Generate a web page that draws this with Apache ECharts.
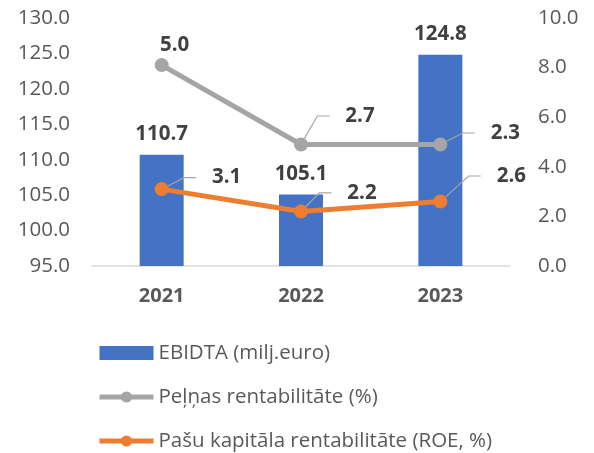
<!DOCTYPE html>
<html>
<head>
<meta charset="utf-8">
<script src="https://cdn.jsdelivr.net/npm/echarts@6/dist/echarts.min.js"></script>
<style>
html,body{margin:0;padding:0;background:#fff;}
#chart{width:594px;height:453px;}
</style>
</head>
<body>
<div id="chart"></div>
<script>
var years = ['2021', '2022', '2023'];
var ebitda = [110.7, 105.1, 124.8];
var profitMargin = [5.0, 2.7, 2.3];   // stacked on top of ROE
var roe = [3.1, 2.2, 2.6];
var leftTicks = [95, 130, 5];
var rightTicks = [0, 10, 2];

// label shifts [dx, dy] for the line labels
var roeShift = [[57, 11], [53, 4], [63, -3]];
var pmShift = [[13, 3], [51, -6], [57, 11]];

var font = '"Open Sans", "Noto Sans", sans-serif';
var fmt = function(p){ return p.value.toFixed(1); };
var lblStyle = {show: true, position: 'top', fontFamily: font, fontSize: 20.5, fontWeight: 'bold', color: '#404040', formatter: fmt};
// leading spaces keep a small gap between leader line and number
var leadLabel = Object.assign({}, lblStyle, {formatter: function(p){ return '\u00a0\u00a0\u00a0' + p.value.toFixed(1); }});
var leadLine = {show: true, length2: 12, lineStyle: {color: '#A5A5A5', width: 1.2}};

window.onload = function(){
	var myChart = echarts.init(document.getElementById('chart'));
	var option = {
		animation: false,
		textStyle: {fontFamily: font},
		grid: {left: 92, right: 84, top: 18, bottom: 187},
		legend: {
			orient: 'vertical',
			left: 97,
			top: 341,
			padding: 0,
			itemGap: 20,
			itemWidth: 54,
			itemHeight: 14,
			lineStyle: {width: 5},
			textStyle: {color: '#595959', fontSize: 20.5, lineHeight: 24, fontFamily: font},
			data: [
				{name: 'EBIDTA (milj.euro)', icon: 'rect'},
				'Peļņas rentabilitāte (%)',
				'Pašu kapitāla rentabilitāte (ROE, %)'
			]
		},
		xAxis: {
			type: 'category',
			data: years,
			axisLine: {lineStyle: {color: '#D9D9D9', width: 1.5}},
			axisTick: {show: false},
			axisLabel: {color: '#595959', fontSize: 20, fontWeight: 'bold', margin: 20}
		},
		yAxis: [
			{
				type: 'value', min: leftTicks[0], max: leftTicks[1], interval: leftTicks[2],
				splitLine: {show: false},
				axisLabel: {color: '#595959', fontSize: 20.5, margin: 22, formatter: function(v){ return v.toFixed(1); }}
			},
			{
				type: 'value', min: rightTicks[0], max: rightTicks[1], interval: rightTicks[2],
				splitLine: {show: false},
				axisLabel: {color: '#595959', fontSize: 20.5, margin: 28, formatter: function(v){ return v.toFixed(1); }}
			}
		],
		series: [
			{
				name: 'EBIDTA (milj.euro)',
				type: 'bar',
				data: ebitda,
				barWidth: 44,
				itemStyle: {color: '#4472C4'},
				label: Object.assign({}, lblStyle, {distance: 10})
			},
			{
				name: 'Pašu kapitāla rentabilitāte (ROE, %)',
				type: 'line',
				yAxisIndex: 1,
				stack: 'pct',
				data: roe,
				symbol: 'circle',
				symbolSize: 14,
				lineStyle: {color: '#ED7D31', width: 5},
				itemStyle: {color: '#ED7D31'},
				label: leadLabel,
				labelLine: leadLine,
				labelLayout: function(p){ return {dx: roeShift[p.dataIndex][0], dy: roeShift[p.dataIndex][1]}; }
			},
			{
				name: 'Peļņas rentabilitāte (%)',
				type: 'line',
				yAxisIndex: 1,
				stack: 'pct',
				data: profitMargin.map(function(v, i){
					return i == 0 ? {value: v, label: {formatter: fmt}, labelLine: {show: false}} : v;
				}),
				symbol: 'circle',
				symbolSize: 14,
				lineStyle: {color: '#A5A5A5', width: 5},
				itemStyle: {color: '#A5A5A5'},
				label: leadLabel,
				labelLine: leadLine,
				labelLayout: function(p){ return {dx: pmShift[p.dataIndex][0], dy: pmShift[p.dataIndex][1]}; }
			}
		]
	};
	myChart.setOption(option);
}
</script>
</body>
</html>
